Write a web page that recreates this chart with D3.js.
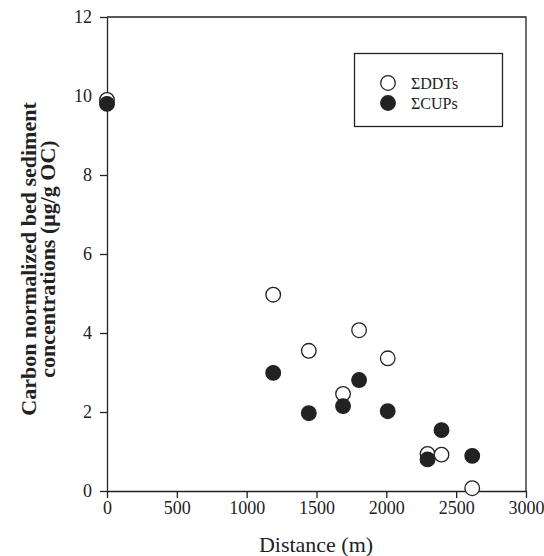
<!DOCTYPE html>
<html>
<head>
<meta charset="utf-8">
<script src="https://cdn.jsdelivr.net/npm/d3@7"></script>
<style>
  body { margin: 0; background: #fff; }
  svg { display: block; font-family: "Liberation Serif", "Times New Roman", serif; }
</style>
</head>
<body>
<div id="chart"></div>
<script>
// Distance (m) and concentrations (ug/g OC)
var ddtDistance = [0, 1190, 1445, 1690, 1805, 2010, 2295, 2395, 2615];
var ddtValues   = [9.9, 4.97, 3.55, 2.46, 4.07, 3.36, 0.94, 0.92, 0.07];
var cupDistance = [0, 1190, 1445, 1690, 1805, 2010, 2295, 2395, 2615];
var cupValues   = [9.8, 2.99, 1.97, 2.15, 2.81, 2.02, 0.8, 1.54, 0.89];
var xTicks = [0, 500, 1000, 1500, 2000, 2500, 3000];
var yTicks = [0, 2, 4, 6, 8, 10, 12];
var seriesNames = ['\u03A3DDTs', '\u03A3CUPs'];

function renderChart() {
  var margin = {top: 17, left: 107};
  var width = 419;
  var height = 474;

  var svg = d3.select('#chart')
              .append('svg')
              .attr('width', 544)
              .attr('height', 556);
  var chart = svg.append('g')
                 .attr('transform', 'translate(' + margin.left + ',' + margin.top + ')');

  var xScale = d3.scaleLinear().domain([0, 3000]).range([0, width]);
  var yScale = d3.scaleLinear().domain([0, 12]).range([height, 0]);

  // Frame (top and right)
  chart.append('path')
       .attr('d', 'M0,0H' + width + 'V' + height)
       .attr('fill', 'none')
       .attr('stroke', '#222')
       .attr('stroke-width', 1.3);

  // X-Axis
  var xAxis = d3.axisBottom(xScale).tickValues(xTicks).tickFormat(d3.format('d'))
                .tickSize(7).tickPadding(3).tickSizeOuter(0);
  var gx = chart.append('g')
                .attr('transform', 'translate(0,' + height + ')')
                .call(xAxis);
  // Y-Axis
  var yAxis = d3.axisLeft(yScale).tickValues(yTicks).tickFormat(d3.format('d'))
                .tickSize(7).tickPadding(8).tickSizeOuter(0);
  var gy = chart.append('g').call(yAxis);

  [gx, gy].forEach(function(g) {
    g.selectAll('path, line').attr('stroke', '#222').attr('stroke-width', 1.3);
    g.selectAll('text')
     .attr('fill', '#222')
     .style('font-size', '18px')
     .style('font-family', '"Liberation Serif", serif');
  });

  // Points: DDTs (open) first, then CUPs (filled)
  chart.selectAll('circle.ddt')
       .data(ddtValues)
       .enter()
       .append('circle')
       .attr('class', 'ddt')
       .attr('cx', function(d, i) { return xScale(ddtDistance[i]); })
       .attr('cy', function(d) { return yScale(d); })
       .attr('r', 7.3)
       .attr('fill', '#fff')
       .attr('stroke', '#222')
       .attr('stroke-width', 1.3);

  chart.selectAll('circle.cup')
       .data(cupValues)
       .enter()
       .append('circle')
       .attr('class', 'cup')
       .attr('cx', function(d, i) { return xScale(cupDistance[i]); })
       .attr('cy', function(d) { return yScale(d); })
       .attr('r', 7.3)
       .attr('fill', '#222')
       .attr('stroke', '#222')
       .attr('stroke-width', 1.3);

  // Axis titles
  svg.append('text')
     .attr('x', 316)
     .attr('y', 552)
     .attr('text-anchor', 'middle')
     .attr('fill', '#222')
     .style('font-size', '22px')
     .text('Distance (m)');

  var yTitle = svg.append('text')
                  .attr('transform', 'translate(36,259) rotate(-90)')
                  .attr('text-anchor', 'middle')
                  .attr('fill', '#222')
                  .style('font-size', '22px')
                  .style('font-weight', 'bold');
  yTitle.append('tspan').attr('x', 0).attr('y', 0).text('Carbon normalized bed sediment');
  yTitle.append('tspan').attr('x', 0).attr('y', 19).text('concentrations (\u03BCg/g OC)');

  // Legend
  var legend = svg.append('g');
  legend.append('rect')
        .attr('x', 354.5)
        .attr('y', 53.5)
        .attr('width', 148)
        .attr('height', 73)
        .attr('fill', '#fff')
        .attr('stroke', '#222')
        .attr('stroke-width', 1.3);
  seriesNames.forEach(function(name, i) {
    legend.append('circle')
          .attr('cx', 388)
          .attr('cy', 83 + i * 20)
          .attr('r', 7.3)
          .attr('fill', i === 0 ? '#fff' : '#222')
          .attr('stroke', '#222')
          .attr('stroke-width', 1.3);
    legend.append('text')
          .attr('x', 411)
          .attr('y', 83 + i * 20 + 5.5)
          .attr('fill', '#222')
          .style('font-size', '16px')
          .text(name);
  });
}

renderChart();
</script>
</body>
</html>
